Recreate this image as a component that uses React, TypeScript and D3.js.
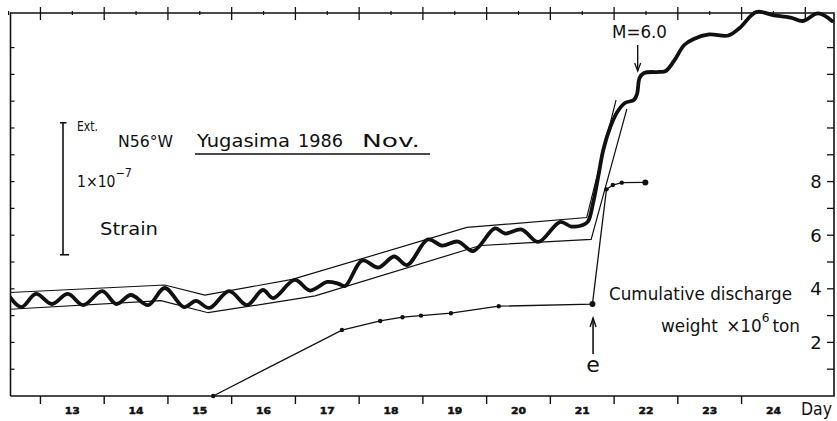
import React from "react";
import * as d3 from "d3";

// ---- Data (day of November 1986) ----
// Strain record, units of 1e-8 (arbitrary offset)
const STRAIN_DAY = [12.52, 12.7, 12.93, 13.18, 13.43, 13.67, 13.97, 14.19, 14.42, 14.69, 14.95, 15.25, 15.44, 15.65, 15.96, 16.24, 16.49, 16.65, 16.99, 17.23, 17.5, 17.67, 17.78, 18.05, 18.3, 18.55, 18.75, 19.08, 19.3, 19.55, 19.79, 20.13, 20.29, 20.55, 20.81, 21.15, 21.33, 21.51, 21.59, 21.67, 21.75, 21.83, 21.94, 22.05, 22.17, 22.31, 22.36, 22.4, 22.47, 22.72, 22.81, 22.94, 23.1, 23.25, 23.49, 23.79, 23.97, 24.23, 24.49, 24.77, 24.96, 25.2, 25.42];
const STRAIN_VAL = [7.5, 6.74, 7.73, 6.97, 7.73, 6.89, 7.95, 6.97, 7.65, 6.89, 8.18, 6.74, 7.2, 6.67, 7.95, 6.89, 8.03, 7.42, 8.79, 7.99, 8.64, 8.52, 8.33, 10.27, 9.73, 10.57, 9.92, 11.86, 11.4, 11.7, 10.98, 12.69, 12.31, 12.61, 11.67, 13.18, 12.84, 12.95, 13.22, 14.62, 16.59, 18.64, 20.38, 21.52, 22.2, 22.42, 22.88, 24.09, 24.47, 24.55, 24.62, 25.38, 26.59, 27.05, 27.39, 27.31, 27.88, 29.09, 28.86, 28.67, 28.41, 28.98, 28.41];

// Envelope lines
const UPPER_DAY = [12.52, 14.95, 15.58, 16.95, 19.69, 21.57, 22.03];
const UPPER_VAL = [7.84, 8.41, 7.65, 8.83, 12.77, 13.52, 22.42];
const LOWER_DAY = [12.52, 14.89, 15.63, 17.31, 19.9, 21.64, 22.2];
const LOWER_VAL = [6.57, 7.22, 6.31, 7.58, 11.4, 11.87, 21.74];

// Cumulative discharge weight, x10^6 ton
const DISCHARGE_DAY = [15.71, 17.73, 18.33, 18.68, 18.97, 19.44, 20.19, 21.66, 21.88, 21.98, 22.12, 22.49];
const DISCHARGE_VAL = [0, 2.46, 2.8, 2.94, 3.0, 3.09, 3.35, 3.43, 7.71, 7.87, 7.96, 7.97];

const DAY_LABELS = [13, 14, 15, 16, 17, 18, 19, 20, 21, 22, 23, 24];
const RIGHT_TICKS = [1, 2, 3, 4, 5, 6, 7, 8, 9, 10, 11, 12, 13];
const RIGHT_LABELS = [2, 4, 6, 8];
const M6_DAY = 22.37;
const ERUPTION_DAY = 21.67;
const SCALE_BAR = [10.7, 20.7];

const FONT = "'DejaVu Sans', 'Liberation Sans', Arial, sans-serif";

function T(props: any) {
  const { children, ...rest } = props;
  return (
    <text fill="#111" lengthAdjust="spacingAndGlyphs" {...rest}>
      {children}
    </text>
  );
}

export default function App() {
  const W = 837, H = 421;
  const left = 10.5, right = 834, top = 13, bottom = 396;
  const x = d3.scaleLinear().domain([12.53, 25.45]).range([left, right]);
  const yS = d3.scaleLinear().domain([0, 29]).range([bottom, 13.2]);
  const yD = d3.scaleLinear().domain([0, 14.29]).range([bottom, top]);

  const strainPts: [number, number][] = STRAIN_DAY.map((d, i) => [x(d), yS(STRAIN_VAL[i])]);
  const upperPts: [number, number][] = UPPER_DAY.map((d, i) => [x(d), yS(UPPER_VAL[i])]);
  const lowerPts: [number, number][] = LOWER_DAY.map((d, i) => [x(d), yS(LOWER_VAL[i])]);
  const dischargePts: [number, number][] = DISCHARGE_DAY.map((d, i) => [x(d), yD(DISCHARGE_VAL[i])]);

  const smooth = d3.line().curve(d3.curveCatmullRom.alpha(0.5));
  const straight = d3.line();

  const majorTicks = d3.range(13, 26);
  const minorTicks = d3.range(12.5, 25.5, 1);

  const xm6 = x(M6_DAY);
  const xe = x(ERUPTION_DAY);
  const ink = "#111";

  return (
    <div style={{ position: "fixed", left: 0, top: 0, width: W, height: H, background: "#fff" }}>
      <svg width={W} height={H} style={{ display: "block" }} fontFamily={FONT}>
        <defs>
          <clipPath id="plot">
            <rect x={left} y={8} width={right - left} height={bottom - 8} />
          </clipPath>
        </defs>
        <rect width={W} height={H} fill="#fff" />

        {/* frame */}
        <path d={`M${left},${bottom}V${top}H${right}V${bottom}H${left}`} fill="none" stroke={ink} strokeWidth={1.6} />

        {/* top ticks */}
        {majorTicks.map((d) => (
          <line key={"tt" + d} x1={x(d)} x2={x(d)} y1={top - 6} y2={top + 7} stroke={ink} strokeWidth={1.3} />
        ))}
        {minorTicks.map((d) => (
          <line key={"tm" + d} x1={x(d)} x2={x(d)} y1={top - 2} y2={top + 2} stroke={ink} strokeWidth={1.2} />
        ))}
        {/* bottom ticks */}
        {majorTicks.filter((d) => d < 25).map((d) => (
          <line key={"bt" + d} x1={x(d)} x2={x(d)} y1={bottom} y2={bottom + 8} stroke={ink} strokeWidth={1.4} />
        ))}
        {/* bottom labels */}
        {DAY_LABELS.map((d) => (
          <T key={"bl" + d} x={x(d + 0.5) - 7.5} y={414} fontSize={9.5} fontWeight={900} textLength={15} stroke={ink} strokeWidth={0.5}>
            {d}
          </T>
        ))}
        <T x={801} y={415} fontSize={18} textLength={31}>Day</T>

        {/* left ticks */}
        {RIGHT_TICKS.map((v) => (
          <line key={"lt" + v} x1={left} x2={left + 4} y1={yD(v)} y2={yD(v)} stroke={ink} strokeWidth={1.2} />
        ))}
        {/* right ticks */}
        {RIGHT_TICKS.map((v) => (
          <line key={"rt" + v} x1={right - 7} x2={right} y1={yD(v)} y2={yD(v)} stroke={ink} strokeWidth={1.3} />
        ))}
        {RIGHT_LABELS.map((v) => (
          <text key={"rl" + v} x={816} y={yD(v) + 6.5} fontSize={18} textAnchor="middle" fill={ink}>
            {v}
          </text>
        ))}

        {/* envelope lines */}
        <g clipPath="url(#plot)">
          <path d={straight(upperPts) || ""} fill="none" stroke={ink} strokeWidth={1.2} />
          <path d={straight(lowerPts) || ""} fill="none" stroke={ink} strokeWidth={1.2} />
          {/* strain curve */}
          <path d={smooth(strainPts) || ""} fill="none" stroke={ink} strokeWidth={3.8} strokeLinejoin="round" strokeLinecap="round" />
        </g>

        {/* discharge */}
        <path d={straight(dischargePts) || ""} fill="none" stroke={ink} strokeWidth={1.3} />
        {dischargePts.map((p, i) => (
          <circle key={"dp" + i} cx={p[0]} cy={p[1]} r={i === 7 || i === dischargePts.length - 1 ? 3 : 2.2} fill={ink} />
        ))}

        {/* scale bar */}
        <line x1={63} x2={63} y1={yS(SCALE_BAR[0])} y2={yS(SCALE_BAR[1])} stroke={ink} strokeWidth={1.6} />
        <line x1={60} x2={66.5} y1={yS(SCALE_BAR[1])} y2={yS(SCALE_BAR[1])} stroke={ink} strokeWidth={1.6} />
        <line x1={60} x2={69} y1={yS(SCALE_BAR[0])} y2={yS(SCALE_BAR[0])} stroke={ink} strokeWidth={1.6} />

        {/* texts */}
        <T x={77} y={131} fontSize={14} textLength={21}>Ext.</T>
        <T x={118} y={147} fontSize={16} textLength={55}>N56°W</T>
        <T x={197} y={147} fontSize={17} textLength={93}>Yugasima</T>
        <line x1={195} x2={430} y1={154} y2={154} stroke={ink} strokeWidth={1.5} />
        <T x={298} y={147} fontSize={17} textLength={45}>1986</T>
        <T x={362} y={147} fontSize={17} textLength={58}>Nov.</T>

        <T x={77} y={187} fontSize={15} textLength={55}>
          1×10<tspan fontSize={12} dy={-10}>−7</tspan>
        </T>
        <T x={100} y={235} fontSize={17} textLength={58}>Strain</T>

        <T x={609} y={300} fontSize={18} textLength={183}>Cumulative discharge</T>
        <T x={661} y={332} fontSize={18} textLength={139}>
          weight{"\u2002"}×10<tspan fontSize={13} dy={-10}>6</tspan><tspan dy={10} dx={3}>ton</tspan>
        </T>

        {/* M=6.0 arrow */}
        <T x={612} y={38} fontSize={17} textLength={55}>M=6.0</T>
        <line x1={xm6} x2={xm6} y1={45} y2={71} stroke={ink} strokeWidth={1.4} />
        <path d={`M${xm6 - 3},${63}L${xm6},${71}L${xm6 + 3},${63}`} fill="none" stroke={ink} strokeWidth={1.3} />

        {/* eruption arrow */}
        <line x1={xe} x2={xe} y1={318} y2={354} stroke={ink} strokeWidth={1.6} />
        <path d={`M${xe - 3},${327}L${xe},${318}L${xe + 3},${327}`} fill="none" stroke={ink} strokeWidth={1.4} />
        <text x={xe} y={372} fontSize={22} textAnchor="middle" fill={ink}>e</text>
      </svg>
    </div>
  );
}
